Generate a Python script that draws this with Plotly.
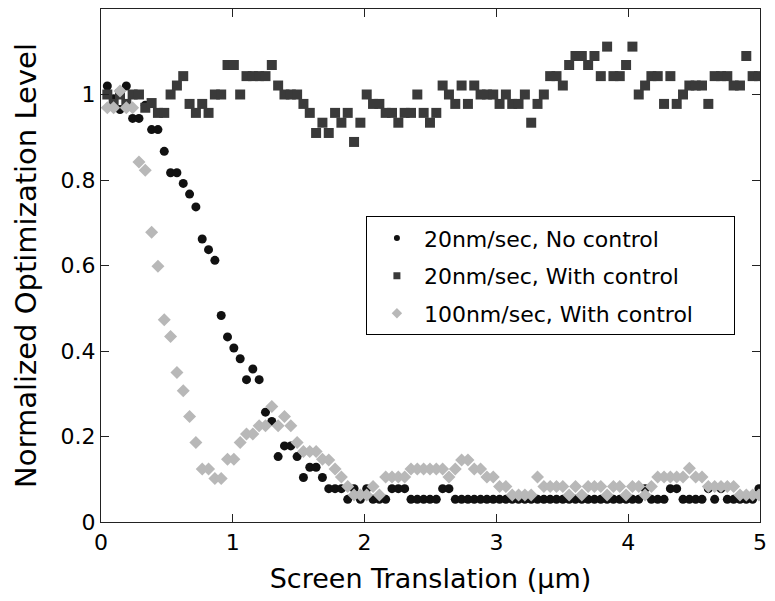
import plotly.graph_objects as go

# sample index grid (x positions in micrometres)
step = 0.048
n_pts = 104
x_vals = [round(step * (i + 1), 4) for i in range(n_pts)]

no_control_20 = [
    1.02, 0.99, 0.965, 1.02, 0.944, 0.944, 0.975, 0.918, 0.918, 0.867,
    0.817, 0.817, 0.792, 0.767, 0.737, 0.662, 0.637, 0.612, 0.483, 0.433,
    0.407, 0.382, 0.333, 0.358, 0.333, 0.257, 0.235, 0.153, 0.178, 0.178,
    0.153, 0.104, 0.128, 0.128, 0.104, 0.078, 0.078, 0.078, 0.053, 0.078,
    0.053, 0.078, 0.053, 0.053, 0.053, 0.078, 0.078, 0.078, 0.053, 0.053,
    0.053, 0.053, 0.053, 0.078, 0.078, 0.053, 0.053, 0.053, 0.053, 0.053,
    0.053, 0.053, 0.053, 0.053, 0.053, 0.053, 0.053, 0.053, 0.053, 0.053,
    0.053, 0.053, 0.053, 0.053, 0.053, 0.053, 0.053, 0.053, 0.053, 0.053,
    0.053, 0.053, 0.053, 0.053, 0.053, 0.078, 0.053, 0.053, 0.053, 0.078,
    0.078, 0.053, 0.053, 0.053, 0.053, 0.078, 0.053, 0.078, 0.053, 0.053,
    0.053, 0.053, 0.053, 0.078,
]

with_control_20 = [
    1.0, 0.978, 1.0, 0.978, 1.0, 1.0, 0.969, 0.98, 0.957, 0.957,
    1.0, 1.021, 1.043, 0.978, 0.957, 0.978, 0.957, 1.0, 1.0, 1.069,
    1.069, 1.0, 1.043, 1.043, 1.043, 1.043, 1.069, 1.021, 1.0, 1.0,
    1.0, 0.978, 0.957, 0.91, 0.934, 0.91, 0.957, 0.934, 0.957, 0.889,
    0.934, 1.0, 0.978, 0.978, 0.957, 0.957, 0.934, 0.957, 0.957, 1.0,
    0.957, 0.934, 0.957, 1.021, 1.0, 0.978, 1.021, 0.978, 1.021, 1.0,
    1.0, 1.0, 0.978, 1.0, 0.978, 0.978, 1.0, 0.934, 0.978, 1.0,
    1.043, 1.043, 1.021, 1.069, 1.09, 1.09, 1.069, 1.09, 1.043, 1.112,
    1.043, 1.043, 1.069, 1.112, 1.0, 1.021, 1.043, 1.043, 0.978, 1.043,
    0.978, 1.0, 1.021, 1.021, 1.021, 0.978, 1.043, 1.043, 1.043, 1.021,
    1.021, 1.09, 1.043, 1.043,
]

with_control_100 = [
    0.969, 0.969, 1.008, 0.969, 0.969, 0.842, 0.823, 0.678, 0.598, 0.473,
    0.434, 0.35, 0.307, 0.247, 0.186, 0.124, 0.124, 0.102, 0.102, 0.147,
    0.147, 0.186, 0.206, 0.206, 0.225, 0.225, 0.27, 0.225, 0.247, 0.225,
    0.186, 0.165, 0.165, 0.165, 0.147, 0.145, 0.124, 0.105, 0.083, 0.063,
    0.063, 0.063, 0.083, 0.063, 0.105, 0.105, 0.105, 0.105, 0.124, 0.124,
    0.124, 0.124, 0.124, 0.124, 0.105, 0.124, 0.145, 0.145, 0.124, 0.124,
    0.105, 0.105, 0.083, 0.083, 0.063, 0.063, 0.063, 0.063, 0.105, 0.083,
    0.083, 0.083, 0.083, 0.063, 0.083, 0.063, 0.083, 0.083, 0.083, 0.063,
    0.083, 0.083, 0.063, 0.083, 0.083, 0.063, 0.083, 0.105, 0.105, 0.105,
    0.105, 0.105, 0.126, 0.105, 0.105, 0.083, 0.083, 0.083, 0.083, 0.083,
    0.063, 0.063, 0.063, 0.063,
]

series_names = ["20nm/sec, No control", "20nm/sec, With control", "100nm/sec, With control"]
x_ticks = [0, 1, 2, 3, 4, 5]
y_ticks = [0, 0.2, 0.4, 0.6, 0.8, 1]
y_tick_labels = ["0", "0.2", "0.4", "0.6", "0.8", "1"]

FONT = "DejaVu Sans"
c_black = "#111111"
c_dark = "#3a3a3a"
c_light = "#b8b8b8"

fig = go.Figure()

styles = [
    (no_control_20, "circle", c_black, 9, 6),
    (with_control_20, "square", c_dark, 10, 7),
    (with_control_100, "diamond", c_light, 10, 8),
]

for (vals, sym, col, sz, lsz), name in zip(styles, series_names):
    fig.add_trace(go.Scatter(
        x=x_vals, y=vals, mode="markers", name=name, showlegend=False,
        marker=dict(symbol=sym, color=col, size=sz, line=dict(width=0)),
        cliponaxis=True,
    ))

pad = "\u00a0" * 5
for (vals, sym, col, sz, lsz), name in zip(styles, series_names):
    fig.add_trace(go.Scatter(
        x=[None], y=[None], mode="markers", name=" " + name + pad, showlegend=True,
        legendgroup=name,
        marker=dict(symbol=sym, color=col, size=lsz, line=dict(width=0)),
    ))

axis_common = dict(
    showline=True, linecolor="#222222", linewidth=1.3, mirror="ticks",
    ticks="inside", ticklen=8, tickwidth=1.3, tickcolor="#222222",
    showgrid=False, zeroline=False,
    tickfont=dict(family=FONT, size=22, color="black"),
)

fig.update_xaxes(
    range=[0, 5], tickvals=x_ticks,
    title=dict(text="Screen Translation (\u03bcm)", font=dict(family=FONT, size=27, color="black"), standoff=15),
    **axis_common,
)
fig.update_yaxes(
    range=[0, 1.2], tickvals=y_ticks, ticktext=y_tick_labels,
    title=dict(text="Normalized Optimization Level", font=dict(family=FONT, size=29, color="black"), standoff=15),
    **axis_common,
)

fig.update_layout(
    width=775, height=601,
    margin=dict(l=101, r=8, t=9, b=79),
    paper_bgcolor="white", plot_bgcolor="white",
    font=dict(family=FONT, color="black"),
    legend=dict(
        x=0.402, y=0.596, xanchor="left", yanchor="top",
        bgcolor="white", bordercolor="black", borderwidth=1,
        font=dict(family=FONT, size=22, color="black"),
        traceorder="grouped", tracegroupgap=6,
        indentation=10,
    ),
)

fig.write_html("out.html")
